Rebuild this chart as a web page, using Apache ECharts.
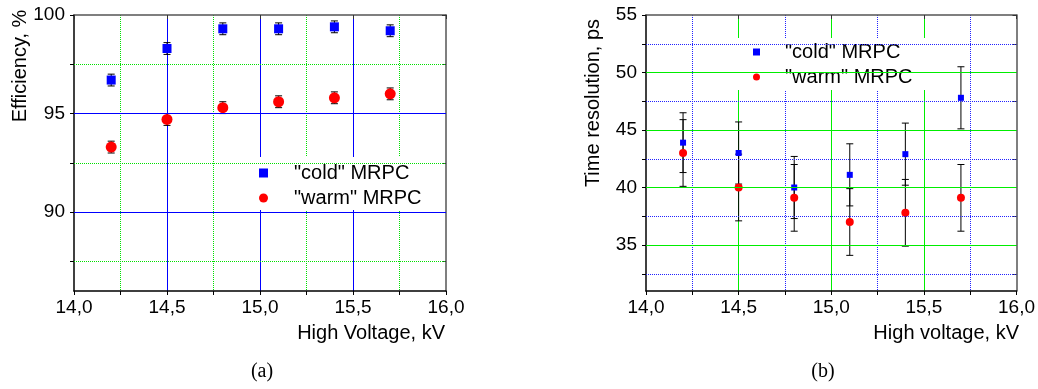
<!DOCTYPE html>
<html>
<head>
<meta charset="utf-8">
<script src="https://cdn.jsdelivr.net/npm/echarts@6/dist/echarts.min.js"></script>
<style>
  html, body { margin: 0; padding: 0; background: #fff; }
  #chart { width: 1038px; height: 389px; }
</style>
</head>
<body>
<div id="chart"></div>
<script>
// high voltage, kV
const voltage = [14.2, 14.5, 14.8, 15.1, 15.4, 15.7]

// (a) efficiency, %
const effCold = [96.7, 98.3, 99.3, 99.3, 99.4, 99.2]
const effColdErr = [0.3, 0.3, 0.3, 0.3, 0.3, 0.3]
const effWarm = [93.3, 94.7, 95.3, 95.6, 95.8, 96.0]
const effWarmErr = [0.3, 0.3, 0.3, 0.3, 0.3, 0.3]
const effTicks = [87.5, 90, 92.5, 95, 97.5, 100]
const effLabels = [90, 95, 100]
const effMajor = [90, 95]
const effMinor = [87.5, 92.5, 97.5]

// (b) time resolution, ps
const resCold = [43.9, 43.0, 40.0, 41.1, 42.9, 47.8]
const resColdErr = [2.6, 2.7, 2.7, 2.7, 2.7, 2.7]
const resWarm = [43.0, 40.0, 39.1, 37.0, 37.8, 39.1]
const resWarmErr = [2.9, 2.9, 2.9, 2.9, 2.9, 2.9]
const resTicks = [32.5, 35, 37.5, 40, 42.5, 45, 47.5, 50, 52.5, 55]
const resLabels = [35, 40, 45, 50, 55]
const resMajor = [35, 40, 45, 50]
const resMinor = [32.5, 37.5, 42.5, 47.5, 52.5]

const COLD = '"cold" MRPC'
const WARM = '"warm" MRPC'
const font = '"Liberation Sans", Arial, sans-serif'

// fresh objects every time, echarts merges into option objects
const blueSolid = () => ({ color: '#0000ff', width: 1, type: 'solid' })
const greenDotted = () => ({ color: '#00e000', width: 1, type: 'dotted' })
const greenSolid = () => ({ color: '#00ee00', width: 1, type: 'solid' })
const blueDotted = () => ({ color: '#2222ff', width: 1, type: 'dotted' })

const points = (ys) => voltage.map((x, i) => [x, ys[i]])
const bars = (ys, errs) => voltage.map((x, i) => [x, ys[i] - errs[i], ys[i] + errs[i]])

function renderErr(params, api) {
  const x = api.value(0)
  const lo = api.coord([x, api.value(1)])
  const hi = api.coord([x, api.value(2)])
  const w = 3.5
  const style = { stroke: '#000', lineWidth: 1 }
  return {
    type: 'group',
    children: [
      { type: 'line', shape: { x1: lo[0], y1: lo[1], x2: hi[0], y2: hi[1] }, style },
      { type: 'line', shape: { x1: lo[0] - w, y1: lo[1], x2: lo[0] + w, y2: lo[1] }, style },
      { type: 'line', shape: { x1: hi[0] - w, y1: hi[1], x2: hi[0] + w, y2: hi[1] }, style },
    ],
  }
}

function bottomX(grid, major, minor) {
  return {
    type: 'value', gridIndex: grid, position: 'bottom', min: 14, max: 16, interval: 0.5,
    axisLine: { show: true, onZero: false, lineStyle: { color: '#000', width: 1.5 } },
    axisTick: { show: true, length: 4, lineStyle: { color: '#000' } },
    minorTick: { show: true, splitNumber: 2, length: 4, lineStyle: { color: '#000' } },
    axisLabel: { formatter: (v) => v.toFixed(1).replace('.', ','), margin: 7, color: '#000', fontSize: 19, fontFamily: font },
    splitLine: { show: true, showMinLine: false, showMaxLine: false, lineStyle: major },
    minorSplitLine: { show: true, lineStyle: minor },
  }
}

function topX(grid) {
  return {
    type: 'value', gridIndex: grid, position: 'top', min: 14, max: 16, interval: 0.5,
    axisLine: { show: true, onZero: false, lineStyle: { color: '#555', width: 1.5 } },
    axisTick: { show: true, inside: true, length: 4, lineStyle: { color: '#333' } },
    axisLabel: { show: false },
    splitLine: { show: false },
  }
}

function leftY(grid, min, max, ticks, labels) {
  return {
    type: 'value', gridIndex: grid, position: 'left', min, max,
    axisLine: { show: true, onZero: false, lineStyle: { color: '#000', width: 1.5 } },
    axisTick: { show: true, length: 4, customValues: ticks, lineStyle: { color: '#000' } },
    axisLabel: { customValues: labels, margin: 9, color: '#000', fontSize: 19, fontFamily: font },
    splitLine: { show: false },
  }
}

function rightY(grid, min, max, ticks) {
  return {
    type: 'value', gridIndex: grid, position: 'right', min, max,
    axisLine: { show: true, onZero: false, lineStyle: { color: '#555', width: 1.5 } },
    axisTick: { show: true, inside: true, length: 4, customValues: ticks, lineStyle: { color: '#333' } },
    axisLabel: { show: false },
    splitLine: { show: false },
  }
}

function gridLines(axis, major, minor, majorStyle, minorStyle) {
  return {
    type: 'line', xAxisIndex: axis, yAxisIndex: axis, data: [], z: 1, silent: true,
    markLine: {
      silent: true, symbol: ['none', 'none'], animation: false, label: { show: false },
      emphasis: { disabled: true },
      data: [
        ...major.map((v) => ({ yAxis: v, lineStyle: majorStyle() })),
        ...minor.map((v) => ({ yAxis: v, lineStyle: minorStyle() })),
      ],
    },
  }
}

function errSeries(axis, ys, errs) {
  return {
    type: 'custom', xAxisIndex: axis, yAxisIndex: axis, z: 2, silent: true,
    renderItem: renderErr, encode: { x: 0, y: [1, 2] }, data: bars(ys, errs),
  }
}

function dots(axis, name, ys, symbol, size, color) {
  return {
    name, type: 'scatter', xAxisIndex: axis, yAxisIndex: axis, z: 3,
    symbol, symbolSize: size, itemStyle: { color, opacity: 1 }, data: points(ys),
  }
}

function legendAt(left, top, padding, icon, textPad) {
  return {
    orient: 'vertical', itemGap: 5, backgroundColor: '#fff', selectedMode: false,
    left, top, padding, itemWidth: icon, itemHeight: icon,
    data: [{ name: COLD, icon: 'rect' }, { name: WARM, icon: 'circle' }],
    textStyle: { fontSize: 20, fontFamily: font, color: '#000', padding: [0, 0, 0, textPad] },
  }
}

function label(text, x, y, align, rotate, family) {
  return {
    type: 'text', x, y, rotation: rotate ? Math.PI / 2 : 0,
    style: { text, font: '20px ' + (family || font), fill: '#000', align, verticalAlign: 'middle' },
  }
}

const chart = echarts.init(document.getElementById('chart'))
chart.setOption({
  animation: false,
  grid: [
    { left: 74, top: 15, width: 372, height: 276 },
    { left: 646, top: 15, width: 371, height: 276 },
  ],
  xAxis: [bottomX(0, blueSolid(), greenDotted()), topX(0), bottomX(1, greenSolid(), blueDotted()), topX(1)],
  yAxis: [leftY(0, 86, 100, effTicks, effLabels), rightY(0, 86, 100, effTicks),
          leftY(1, 31, 55, resTicks, resLabels), rightY(1, 31, 55, resTicks)],
  legend: [
    legendAt(238, 157, [6, 16, 2, 21], 9, 21),
    legendAt(729, 38, [4, 24, 3, 24], 7, 20),
  ],
  graphic: [
    label('Efficiency, %', 20, 66, 'center', true),
    label('Time resolution, ps', 593, 103, 'center', true),
    label('High Voltage, kV', 445, 333, 'right'),
    label('High voltage, kV', 1019, 333, 'right'),
    label('(a)', 262, 372, 'center', false, '"Liberation Serif", serif'),
    label('(b)', 823, 372, 'center', false, '"Liberation Serif", serif'),
  ],
  series: [
    gridLines(0, effMajor, effMinor, blueSolid, greenDotted),
    errSeries(0, effCold, effColdErr),
    errSeries(0, effWarm, effWarmErr),
    dots(0, COLD, effCold, 'rect', 9, '#0000ff'),
    dots(0, WARM, effWarm, 'circle', 11, '#ff0000'),
    gridLines(2, resMajor, resMinor, greenSolid, blueDotted),
    errSeries(2, resCold, resColdErr),
    errSeries(2, resWarm, resWarmErr),
    dots(2, COLD, resCold, 'rect', 6, '#0000ff'),
    dots(2, WARM, resWarm, 'circle', 8, '#ff0000'),
  ],
})
</script>
</body>
</html>
